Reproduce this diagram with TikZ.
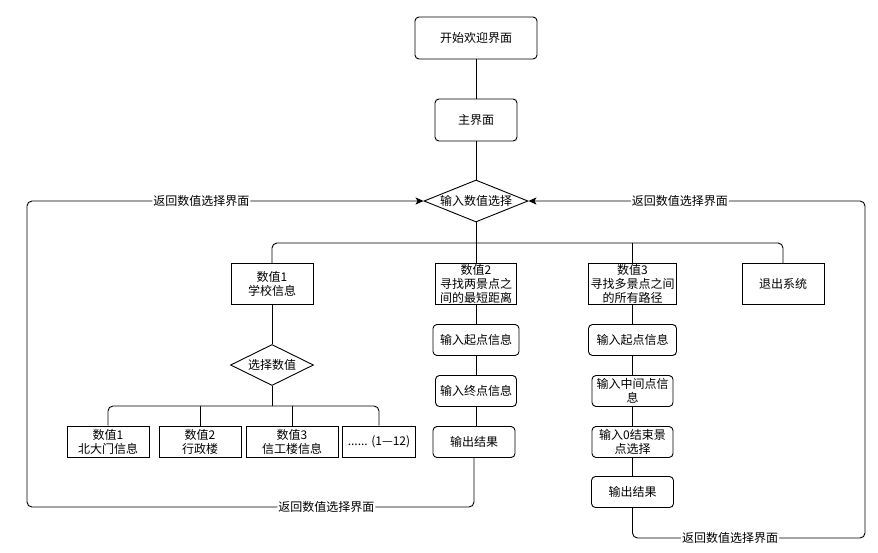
\documentclass[tikz,border=0pt]{standalone}
\usepackage{fontspec}
\newfontfamily\cjk{Noto Sans CJK SC}
\usetikzlibrary{arrows.meta,shapes.geometric}
\begin{document}
\begin{tikzpicture}[x=1pt,y=-1pt,
  every node/.style={font=\cjk\fontsize{12}{14}\selectfont, inner sep=0pt, align=center},
  rbox/.style={draw, line width=0.9pt, rounded corners=4pt},
  sbox/.style={draw, line width=0.9pt},
  dbox/.style={draw, line width=0.9pt, diamond, aspect=2.5},
  ln/.style={line width=0.9pt},
  rl/.style={line width=0.9pt, rounded corners=5pt},
  lk/.style={line width=0.9pt, rounded corners=5pt, -{Stealth[length=8pt,width=7pt,inset=2pt]}},
  lbl/.style={fill=white, inner sep=1pt}]
\useasboundingbox (0,0) rectangle (878,552);
\fill[white] (0,0) rectangle (878,552);

% top
\node[rbox, minimum width=122pt, minimum height=42pt] (start) at (476,38) {开始欢迎界面};
\node[rbox, minimum width=82pt, minimum height=42pt] (main) at (476,120) {主界面};
\node[dbox, minimum width=104pt, minimum height=42pt] (dia) at (476,201) {输入数值选择};

% first row
\node[sbox, minimum width=82pt, minimum height=41pt] (v1) at (272,284) {数值1\\学校信息};
\node[sbox, minimum width=81pt, minimum height=41pt] (v2) at (476,284) {数值2\\寻找两景点之\\间的最短距离};
\node[sbox, minimum width=88pt, minimum height=41pt] (v3) at (632.5,284) {数值3\\寻找多景点之间\\的所有路径};
\node[sbox, minimum width=82pt, minimum height=41pt] (v4) at (783,284) {退出系统};

% column 2
\node[rbox, minimum width=86pt, minimum height=31pt] (in2) at (476,340) {输入起点信息};
\node[rbox, minimum width=81pt, minimum height=31pt] (en2) at (476,391) {输入终点信息};
\node[rbox, minimum width=82pt, minimum height=31pt] (out2) at (474,442) {输出结果};

% column 3
\node[rbox, minimum width=88pt, minimum height=31pt] (in3) at (632.5,340) {输入起点信息};
\node[rbox, minimum width=81pt, minimum height=31pt] (mid3) at (632.5,391) {输入中间点信\\息};
\node[rbox, minimum width=81pt, minimum height=31pt] (end3) at (632.5,442) {输入0结束景\\点选择};
\node[rbox, minimum width=82pt, minimum height=31pt] (out3) at (632.5,492) {输出结果};

% column 1
\node[draw, line width=0.9pt, diamond, aspect=2, minimum width=83pt, minimum height=41pt] (sel) at (272,365) {选择数值};
\node[sbox, minimum width=82pt, minimum height=31pt] (b1) at (108,441.5) {数值1\\北大门信息};
\node[sbox, minimum width=82pt, minimum height=31pt] (b2) at (200,441.5) {数值2\\行政楼};
\node[sbox, minimum width=92pt, minimum height=31pt] (b3) at (292,441.5) {数值3\\信工楼信息};
\node[sbox, minimum width=73pt, minimum height=31pt] (b4) at (379,441.5) {...... (1—12)};

% connectors top
\draw[ln] (start) -- (main);
\draw[ln] (main) -- (dia);

% branch from diamond
\coordinate (j) at (476,243);
\draw[ln] (dia.south) -- (v2.north);
\draw[rl] (v1.north) |- (v4.north |- j) -- (v4.north);
\draw[ln] (v3.north |- j) -- (v3.north);

% column 2 chain
\draw[ln] (v2) -- (in2);
\draw[ln] (in2) -- (en2);
\draw[ln] (en2.south) -- (en2.south |- out2.north);

% column 3 chain
\draw[ln] (v3) -- (in3);
\draw[ln] (in3) -- (mid3);
\draw[ln] (mid3) -- (end3);
\draw[ln] (end3) -- (out3);

% column 1
\draw[ln] (v1) -- (sel);
\coordinate (j2) at (272,406);
\draw[ln] (sel.south) -- (j2);
\draw[rl] (b1.north) |- (b4.north |- j2) -- (b4.north);
\draw[ln] (b2.north |- j2) -- (b2.north);
\draw[ln] (b3.north |- j2) -- (b3.north);

% return loops
\coordinate (c2) at (474,507);
\coordinate (lb) at (27,507);
\coordinate (lt) at (27,201);
\draw[lk] (out2.south) -- (c2) -- node[lbl, pos=.33] (l1) {返回数值选择界面} (lb) -- (lt) -- node[lbl, pos=.44] (l2) {返回数值选择界面} (dia.west);

\coordinate (c3) at (632.5,538);
\coordinate (rb) at (865,538);
\coordinate (rt) at (865,201);
\draw[lk] (out3.south) -- (c3) -- node[lbl, pos=.42] (l3) {返回数值选择界面} (rb) -- (rt) -- node[lbl, pos=.55] (l4) {返回数值选择界面} (dia.east);
\end{tikzpicture}
\end{document}
